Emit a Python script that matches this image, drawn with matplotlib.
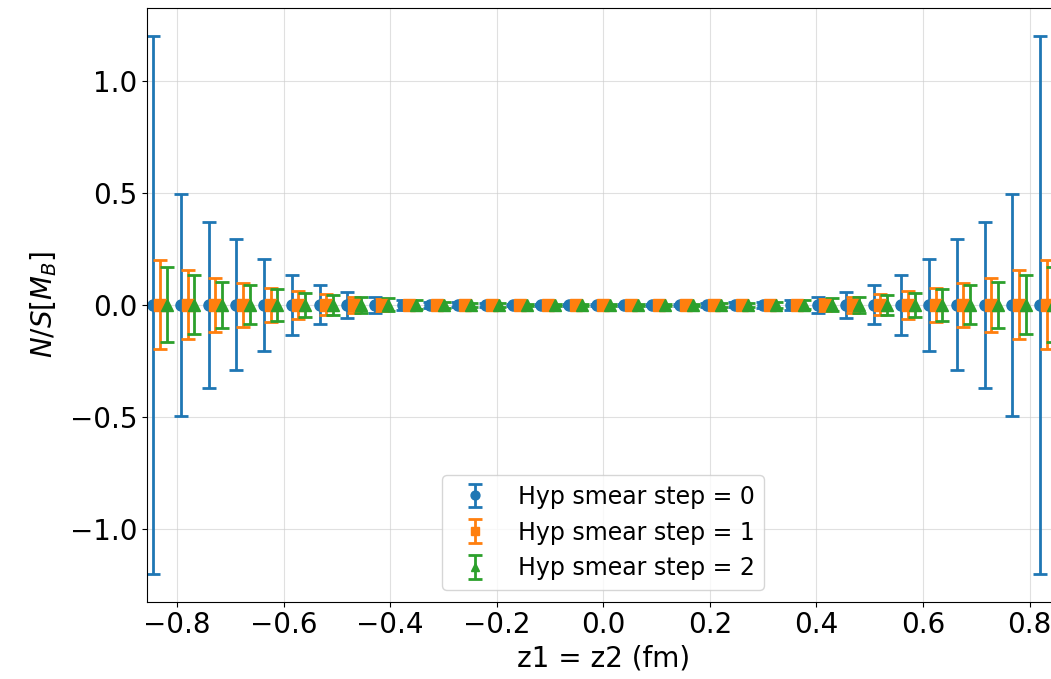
import matplotlib
matplotlib.use("Agg")
import numpy as np
import matplotlib.pyplot as plt

# separation z1 = z2 in fm
z = [-0.832, -0.780, -0.728, -0.676, -0.624, -0.572, -0.520, -0.468, -0.416,
     -0.364, -0.312, -0.260, -0.208, -0.156, -0.104, -0.052, 0.0,
     0.052, 0.104, 0.156, 0.208, 0.260, 0.312, 0.364, 0.416,
     0.468, 0.520, 0.572, 0.624, 0.676, 0.728, 0.780, 0.832]

ns_0 = [0.0] * 33
ns_1 = [0.0] * 33
ns_2 = [0.0] * 33

err_0 = [1.2, 0.496, 0.372, 0.292, 0.204, 0.135, 0.087, 0.058, 0.036, 0.022, 0.015,
         0.011, 0.008, 0.006, 0.005, 0.004, 0.004, 0.004, 0.005, 0.006, 0.008, 0.011,
         0.015, 0.022, 0.036, 0.058, 0.087, 0.135, 0.204, 0.292, 0.372, 0.496, 1.2]
err_1 = [0.199, 0.154, 0.121, 0.097, 0.075, 0.061, 0.047, 0.036, 0.026, 0.019, 0.014,
         0.010, 0.008, 0.006, 0.005, 0.004, 0.004, 0.004, 0.005, 0.006, 0.008, 0.010,
         0.014, 0.019, 0.026, 0.036, 0.047, 0.061, 0.075, 0.097, 0.121, 0.154, 0.199]
err_2 = [0.167, 0.132, 0.104, 0.087, 0.070, 0.055, 0.045, 0.037, 0.029, 0.020, 0.014,
         0.010, 0.008, 0.006, 0.005, 0.004, 0.004, 0.004, 0.005, 0.006, 0.008, 0.010,
         0.014, 0.020, 0.029, 0.037, 0.045, 0.055, 0.070, 0.087, 0.104, 0.132, 0.167]

labels = ["Hyp smear step = 0", "Hyp smear step = 1", "Hyp smear step = 2"]

fig = plt.figure(figsize=(10.51, 6.79), dpi=100)
ax = fig.add_axes([0.140, 0.114, 0.868, 0.874])

zz = np.array(z)
shift = 0.0125
style = dict(ms=8, capsize=5, elinewidth=2, capthick=2)
ax.errorbar(zz - shift, ns_0, yerr=err_0, fmt="o", color="C0", label=labels[0], **style)
ax.errorbar(zz, ns_1, yerr=err_1, fmt="s", color="C1", label=labels[1], **style)
ax.errorbar(zz + shift, ns_2, yerr=err_2, fmt="^", color="C2", label=labels[2], **style)

ax.set_xlim(-0.856, 0.856)
ax.set_ylim(-1.325, 1.325)
ax.set_xticks([-0.8, -0.6, -0.4, -0.2, 0.0, 0.2, 0.4, 0.6, 0.8])
ax.set_yticks([-1.0, -0.5, 0.0, 0.5, 1.0])
ax.tick_params(labelsize=20)
ax.grid(True, color="#cccccc", alpha=0.6)
ax.set_xlabel("z1 = z2 (fm)", fontsize=20)
ax.set_ylabel("$N/S[M_B]$", fontsize=20, labelpad=8)
ax.legend(loc="lower center", fontsize=17, markerscale=0.8)

fig.savefig("out.png", dpi=100)
